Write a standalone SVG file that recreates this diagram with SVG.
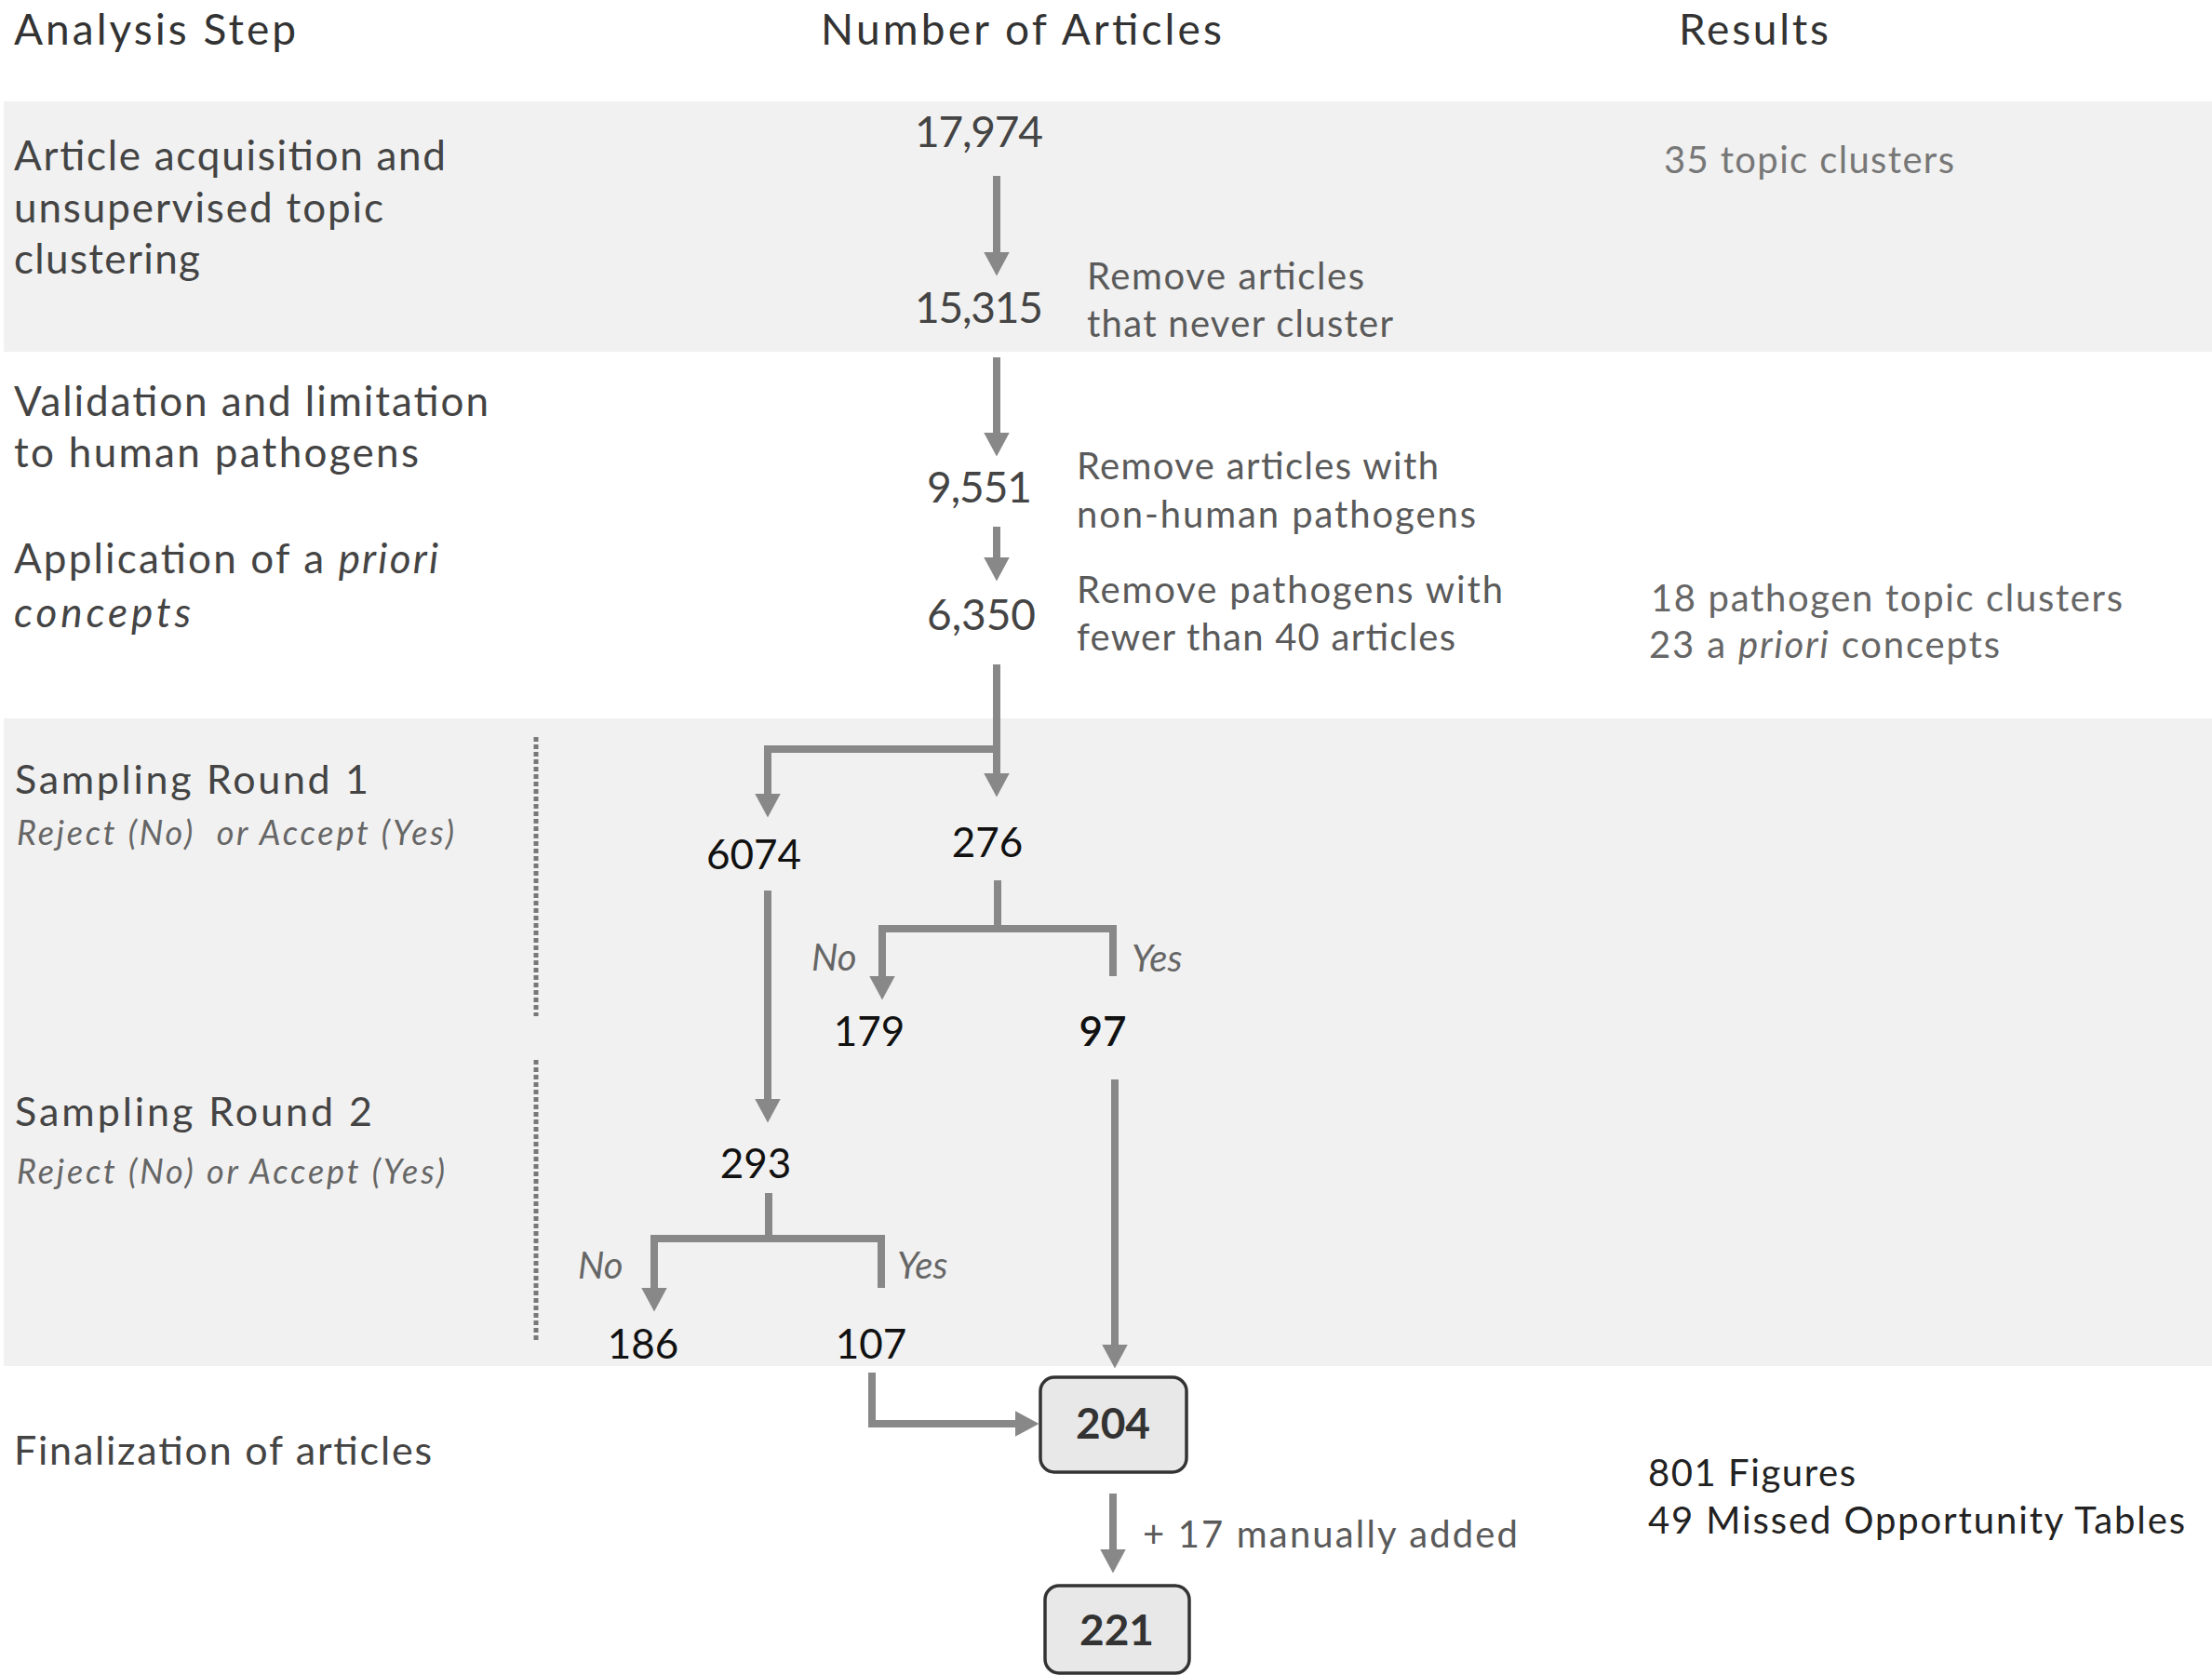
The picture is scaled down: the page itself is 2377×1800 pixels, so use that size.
<svg xmlns="http://www.w3.org/2000/svg" width="2377" height="1800" viewBox="0 0 2377 1800">
<defs>
<marker id="ah" viewBox="0 0 26 28" refX="0.5" refY="14" markerWidth="26" markerHeight="28" markerUnits="userSpaceOnUse" orient="auto">
<path d="M0,0 L26,14 L0,28 Z" fill="#888888"/>
</marker>
<style>
text{font-family:Lato,"Open Sans","Liberation Sans",sans-serif;}
.hdr{font-size:46px;fill:#333333;}
.step{font-size:44px;fill:#444444;}
.step2{font-size:43px;fill:#444444;}
.sub{font-size:36px;fill:#666666;font-style:italic;}
.num{font-size:46px;fill:#444444;}
.num2{font-size:44px;fill:#111111;text-anchor:middle;}
.desc{font-size:40px;fill:#5a5a5a;}
.res{font-size:40px;fill:#666666;}
.res2{font-size:40px;fill:#222222;}
.yn{font-size:40px;fill:#666666;font-style:italic;}
.box{fill:#e8e8e8;stroke:#333333;stroke-width:3.5;}
.boxt{font-size:46px;font-weight:bold;fill:#333333;text-anchor:middle;}
.band{fill:#f1f1f1;}
.ln{fill:none;stroke:#888888;stroke-width:8;}
.arr{fill:none;stroke:#888888;stroke-width:8;marker-end:url(#ah);}
.dot{fill:none;stroke:#777777;stroke-width:5;stroke-dasharray:5 3;}
</style>
</defs>
<rect width="2377" height="1800" fill="#ffffff"/>
<g id="bands">
<rect class="band" x="4" y="109" width="2373" height="269"/>
<rect class="band" x="4" y="772" width="2373" height="696"/>
</g>
<g id="headers">
<text class="hdr" x="15" y="48" textLength="303">Analysis Step</text>
<text class="hdr" x="882" y="48" textLength="431">Number of Articles</text>
<text class="hdr" x="1804" y="48" textLength="161">Results</text>
</g>
<g id="steps">
<text class="step" x="15" y="183" textLength="464">Article acquisition and</text>
<text class="step" x="15" y="239" textLength="397">unsupervised topic</text>
<text class="step" x="15" y="294" textLength="200">clustering</text>
<text class="step" x="15" y="447" textLength="510">Validation and limitation</text>
<text class="step" x="15" y="502" textLength="435">to human pathogens</text>
<text class="step" x="15" y="616" textLength="456">Application of a <tspan font-style="italic">priori</tspan></text>
<text class="step" x="15" y="674" font-style="italic" textLength="190">concepts</text>
<text class="step2" x="16" y="853" textLength="380">Sampling Round 1</text>
<text class="sub" x="18" y="908" textLength="470" xml:space="preserve">Reject (No)  or Accept (Yes)</text>
<text class="step2" x="16" y="1210" textLength="384">Sampling Round 2</text>
<text class="sub" x="18" y="1272" textLength="460">Reject (No) or Accept (Yes)</text>
<text class="step2" x="15" y="1574" textLength="449">Finalization of articles</text>
</g>
<g id="n17974"><text class="num" x="983" y="158" textLength="138">17,974</text></g>
<g id="n15315"><text class="num" x="983" y="347" textLength="138">15,315</text></g>
<g id="n9551"><text class="num" x="996" y="540" textLength="113">9,551</text></g>
<g id="n6350"><text class="num" x="996" y="677" textLength="117">6,350</text></g>
<g id="n6074"><text class="num2" x="810" y="934">6074</text></g>
<g id="n276"><text class="num2" x="1061" y="921">276</text></g>
<g id="n179"><text class="num2" x="934" y="1124">179</text></g>
<g id="n97"><text class="num2" x="1185" y="1124" font-weight="600">97</text></g>
<g id="n293"><text class="num2" x="812" y="1266">293</text></g>
<g id="n186"><text class="num2" x="691" y="1460">186</text></g>
<g id="n107"><text class="num2" x="936" y="1460">107</text></g>
<g id="n204">
<rect class="box" x="1118" y="1480" width="157" height="102" rx="15"/>
<text class="boxt" x="1196" y="1546">204</text>
</g>
<g id="n221">
<rect class="box" x="1123" y="1704" width="155" height="94" rx="15"/>
<text class="boxt" x="1200" y="1768">221</text>
</g>
<g id="descriptions">
<text class="desc" x="1168" y="311" textLength="298">Remove articles</text>
<text class="desc" x="1168" y="362" textLength="329">that never cluster</text>
<text class="desc" x="1157" y="515" textLength="389">Remove articles with</text>
<text class="desc" x="1157" y="567" textLength="429">non-human pathogens</text>
<text class="desc" x="1157" y="648" textLength="458">Remove pathogens with</text>
<text class="desc" x="1157" y="699" textLength="407">fewer than 40 articles</text>
<text class="desc" x="1228" y="1663" textLength="403">+ 17 manually added</text>
</g>
<g id="results">
<text class="res" x="1788" y="186" style="fill:#777777" textLength="312">35 topic clusters</text>
<text class="res" x="1774" y="657" textLength="507">18 pathogen topic clusters</text>
<text class="res" x="1772" y="707" textLength="377">23 a <tspan font-style="italic">priori</tspan> concepts</text>
<text class="res2" x="1771" y="1597" textLength="223">801 Figures</text>
<text class="res2" x="1771" y="1648" textLength="577">49 Missed Opportunity Tables</text>
</g>
<g id="yesno">
<text class="yn" x="872" y="1043">No</text>
<text class="yn" x="1216" y="1044">Yes</text>
<text class="yn" x="621" y="1374">No</text>
<text class="yn" x="964" y="1374">Yes</text>
</g>
<g id="dividers">
<line class="dot" x1="576" y1="792" x2="576" y2="1092"/>
<line class="dot" x1="576" y1="1139" x2="576" y2="1441"/>
</g>
<g id="connectors">
<line class="arr" x1="1071" y1="189" x2="1071" y2="271"/>
<line class="arr" x1="1071" y1="384" x2="1071" y2="465"/>
<line class="arr" x1="1071" y1="566" x2="1071" y2="599"/>
<line class="arr" x1="1071" y1="714" x2="1071" y2="831"/>
<polyline class="arr" points="1071,805 825,805 825,853"/>
<line class="arr" x1="825" y1="957" x2="825" y2="1181"/>
<line class="ln" x1="1072" y1="946" x2="1072" y2="998"/>
<polyline class="arr" points="1196,1049 1196,998 948,998 948,1049"/>
<line class="ln" x1="826" y1="1282" x2="826" y2="1331"/>
<polyline class="arr" points="947,1384 947,1331 703,1331 703,1384"/>
<line class="arr" x1="1198" y1="1160" x2="1198" y2="1445"/>
<polyline class="arr" points="937,1475 937,1530 1091,1530"/>
<line class="arr" x1="1196" y1="1605" x2="1196" y2="1665"/>
</g>
</svg>
